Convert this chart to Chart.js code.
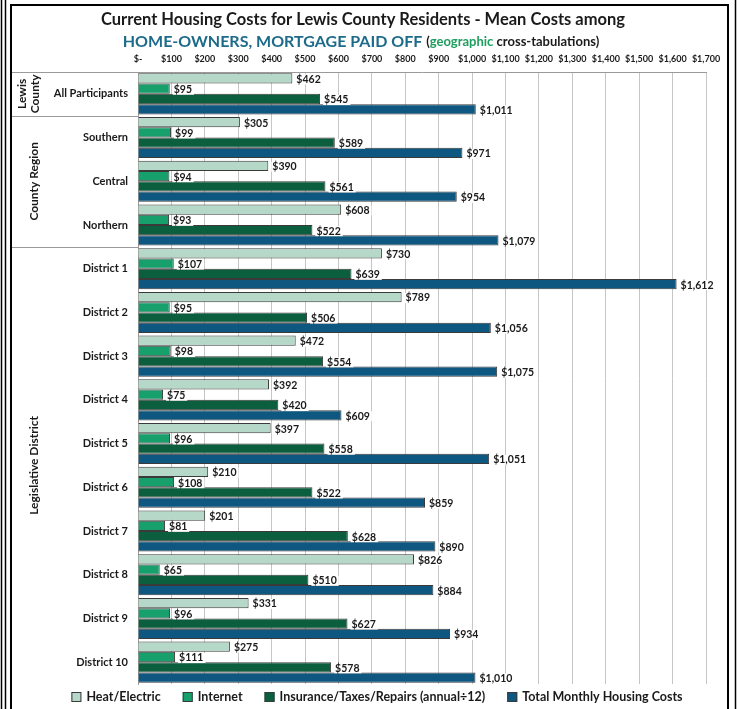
<!DOCTYPE html>
<html>
<head>
<meta charset="utf-8">
<script src="https://cdn.jsdelivr.net/npm/chart.js@4"></script>
<style>
  html, body { margin: 0; padding: 0; background: #fff; }
  #wrap { width: 737px; height: 709px; position: relative; }
</style>
</head>
<body>
<div id="wrap"><canvas id="housingChart" width="737" height="709"></canvas></div>
<script>
// ===== Data =====
const categories = ['All Participants', 'Southern', 'Central', 'Northern',
  'District 1', 'District 2', 'District 3', 'District 4', 'District 5',
  'District 6', 'District 7', 'District 8', 'District 9', 'District 10'];

const heatElectric = [462, 305, 390, 608, 730, 789, 472, 392, 397, 210, 201, 826, 331, 275];
const internet = [95, 99, 94, 93, 107, 95, 98, 75, 96, 108, 81, 65, 96, 111];
const insurance = [545, 589, 561, 522, 639, 506, 554, 420, 558, 522, 628, 510, 627, 578];
const totalMonthly = [1011, 971, 954, 1079, 1612, 1056, 1075, 609, 1051, 859, 890, 884, 934, 1010];

const seriesNames = ['Heat/Electric', 'Internet', 'Insurance/Taxes/Repairs (annual\u00f712)', 'Total Monthly Housing Costs'];

// groups on the left: label lines, first and last category index
const groups = [
  { lines: ['Lewis', 'County'], from: 0, to: 0 },
  { lines: ['County Region'], from: 1, to: 3 },
  { lines: ['Legislative District'], from: 4, to: 13 }
];

const FONT = 'Lato, "Open Sans", sans-serif';

const money = v => v === 0 ? '$-' : '$' + v.toLocaleString('en-US');

// ===== Plugins =====
const paperPlugin = {
  id: 'paper',
  beforeDraw(chart) {
    const ctx = chart.ctx;
    ctx.save();
    ctx.fillStyle = '#fff';
    ctx.fillRect(0, 0, chart.width, chart.height);
    ctx.restore();
  },
  afterDraw(chart) {
    const ctx = chart.ctx;
    const area = chart.chartArea;
    const yScale = chart.scales.y;
    ctx.save();

    // outer frame
    ctx.strokeStyle = '#000';
    ctx.lineWidth = 1.5;
    ctx.beginPath();
    ctx.moveTo(1.5, 0); ctx.lineTo(1.5, 709);
    ctx.moveTo(5.5, 0); ctx.lineTo(5.5, 709);
    ctx.moveTo(735.5, 0); ctx.lineTo(735.5, 709);
    ctx.stroke();
    ctx.lineWidth = 2;
    ctx.strokeRect(11, 5, 717, 710);

    // title
    ctx.textAlign = 'center';
    ctx.textBaseline = 'middle';
    ctx.fillStyle = '#1a1a1a';
    ctx.font = 'bold 16.5px ' + FONT;
    ctx.fillText('Current Housing Costs for Lewis County Residents - Mean Costs among', 363, 20);

    const parts = [
      { t: 'HOME-OWNERS, MORTGAGE PAID OFF ', c: '#1d6b8a', f: 'bold 16px ' + FONT },
      { t: '(', c: '#1a1a1a', f: 'bold 13px ' + FONT },
      { t: 'geographic', c: '#1e9e5e', f: 'bold 13px ' + FONT },
      { t: ' cross-tabulations)', c: '#1a1a1a', f: 'bold 13px ' + FONT }
    ];
    let w = 0;
    parts.forEach(p => { ctx.font = p.f; w += ctx.measureText(p.t).width; });
    let x = 361 - w / 2;
    ctx.textAlign = 'left';
    parts.forEach(p => {
      ctx.font = p.f;
      ctx.fillStyle = p.c;
      ctx.fillText(p.t, x, 42);
      x += ctx.measureText(p.t).width;
    });

    // group separators and labels
    const step = (yScale.getPixelForValue(1) - yScale.getPixelForValue(0));
    ctx.strokeStyle = '#9a9a9a';
    ctx.lineWidth = 1;
    ctx.beginPath();
    ctx.moveTo(12, area.top + 0.5); ctx.lineTo(area.left, area.top + 0.5);
    groups.forEach(g => {
      const yb = yScale.getPixelForValue(g.to) + step / 2;
      if (g.to < categories.length - 1) {
        ctx.moveTo(12, Math.round(yb) + 0.5);
        ctx.lineTo(area.left, Math.round(yb) + 0.5);
      }
    });
    ctx.stroke();

    ctx.fillStyle = '#1a1a1a';
    ctx.font = 'bold 12px ' + FONT;
    ctx.textAlign = 'center';
    groups.forEach(g => {
      const ya = yScale.getPixelForValue(g.from) - step / 2;
      const yb = yScale.getPixelForValue(g.to) + step / 2;
      const cy = (ya + yb) / 2;
      const n = g.lines.length;
      g.lines.forEach((ln, i) => {
        ctx.save();
        ctx.translate(n === 1 ? 34 : 22 + i * 13, cy);
        ctx.rotate(-Math.PI / 2);
        ctx.fillText(ln, 0, 0);
        ctx.restore();
      });
    });

    // value labels
    ctx.font = 'bold 10.5px ' + FONT;
    ctx.textAlign = 'left';
    ctx.textBaseline = 'middle';
    chart.data.datasets.forEach((ds, di) => {
      const meta = chart.getDatasetMeta(di);
      meta.data.forEach((bar, i) => {
        const txt = money(ds.data[i]);
        const tw = ctx.measureText(txt).width;
        const lx = bar.x + 4;
        const ly = bar.y + 1;
        ctx.fillStyle = '#fff';
        ctx.fillRect(lx - 1, ly - 5, tw + 3, 10);
        ctx.fillStyle = '#1a1a1a';
        ctx.fillText(txt, lx, ly);
      });
    });

    // legend (bottom, single row)
    ctx.font = 'bold 12.5px ' + FONT;
    const gap = 22, boxW = 10, boxGap = 5;
    const items = chart.data.datasets.map(ds => ({
      ds, w: boxW + boxGap + ctx.measureText(ds.label).width
    }));
    const totalW = items.reduce((a, it) => a + it.w, 0) + gap * (items.length - 1);
    let lxp = 377 - totalW / 2;
    const ly = 697;
    items.forEach(it => {
      ctx.fillStyle = it.ds.backgroundColor;
      ctx.fillRect(lxp, ly - 5, boxW, boxW);
      ctx.strokeStyle = it.ds.borderColor;
      ctx.lineWidth = 1;
      ctx.strokeRect(lxp + 0.5, ly - 4.5, boxW - 1, boxW - 1);
      ctx.fillStyle = '#1a1a1a';
      ctx.fillText(it.ds.label, lxp + boxW + boxGap, ly);
      lxp += it.w + gap;
    });

    ctx.restore();
  }
};

// ===== Chart =====
const ctx = document.getElementById('housingChart').getContext('2d');
const border = '#3a3a3a';

new Chart(ctx, {
  type: 'bar',
  data: {
    labels: categories,
    datasets: [
      { label: seriesNames[0], data: heatElectric, backgroundColor: '#b5d8c8', borderColor: border, borderWidth: 1 },
      { label: seriesNames[1], data: internet, backgroundColor: '#17a06c', borderColor: border, borderWidth: 1 },
      { label: seriesNames[2], data: insurance, backgroundColor: '#0c5f3e', borderColor: border, borderWidth: 1 },
      { label: seriesNames[3], data: totalMonthly, backgroundColor: '#0e5781', borderColor: border, borderWidth: 1 }
    ]
  },
  options: {
    indexAxis: 'y',
    responsive: false,
    animation: false,
    maintainAspectRatio: false,
    datasets: { bar: { categoryPercentage: 0.94, barPercentage: 1.0 } },
    layout: { padding: { left: 14, right: 31, top: 46, bottom: 25 } },
    scales: {
      x: {
        position: 'top',
        min: 0,
        max: 1700,
        afterFit: s => { s.height = 26; },
        ticks: {
          stepSize: 100,
          autoSkip: false,
          maxRotation: 0,
          padding: 8,
          color: '#1a1a1a',
          font: { family: FONT, size: 9, weight: 'bold' },
          callback: v => money(v)
        },
        grid: { color: '#c6c6c6', drawTicks: false },
        border: { color: '#9a9a9a' }
      },
      y: {
        afterFit: s => { s.width = 124; },
        ticks: {
          padding: 10,
          color: '#1a1a1a',
          font: { family: FONT, size: 11, weight: 'bold' }
        },
        grid: { display: false, drawTicks: false },
        border: { color: '#9a9a9a' }
      }
    },
    plugins: {
      tooltip: { enabled: false },
      legend: { display: false }
    }
  },
  plugins: [paperPlugin]
});
</script>
</body>
</html>
